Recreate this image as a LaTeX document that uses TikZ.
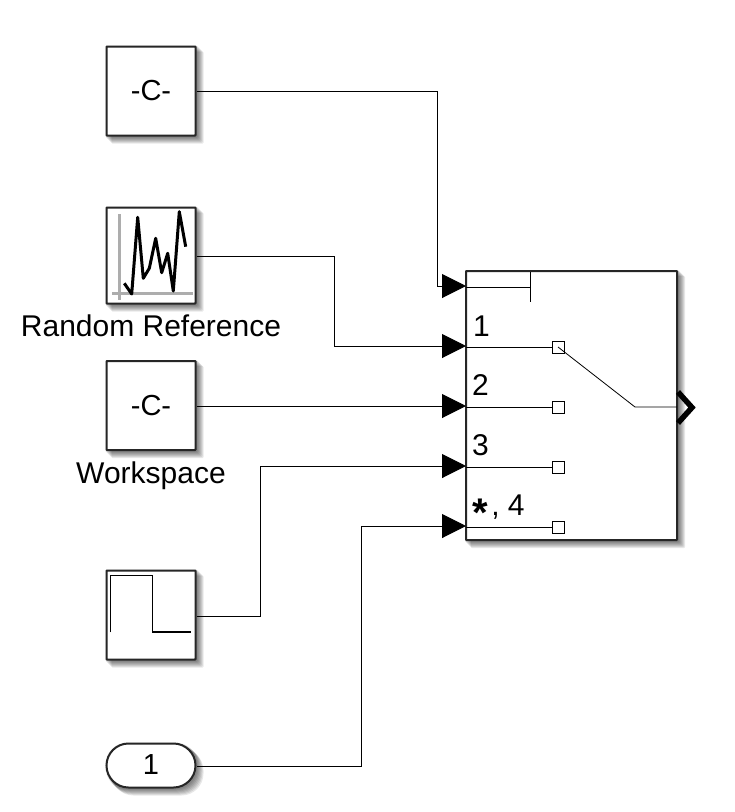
\documentclass[tikz,border=0pt]{standalone}
\usepackage{fontspec}
\setmainfont{Liberation Sans}
\usetikzlibrary{arrows.meta,calc,backgrounds}
\definecolor{axisgray}{gray}{0.68}
\tikzset{
  x=1pt,y=-1pt,
  blockbox/.style={draw=black!85,line width=2pt,fill=white,inner sep=0pt,
    minimum width=89pt,rounded corners=.6pt,font=\fontsize{29}{29}\selectfont},
  term/.style={blockbox,rounded corners=22pt,minimum height=44pt},
  conn/.style={line width=1pt,black},
  inconn/.style={conn,-{Triangle[length=24pt,width=24pt]}},
  wire/.style={line width=1pt,black},
  portsq/.style={draw=black,line width=.8pt,fill=white,minimum size=12pt,inner sep=0pt},
  lbl/.style={font=\fontsize{30}{30}\selectfont,inner sep=0pt,anchor=base},
  plbl/.style={font=\fontsize{30}{30}\selectfont,inner sep=0pt,anchor=base west},
  shadelayer/.style={fill=black,draw=none,opacity=.09},
}
\newcommand{\softshade}[2]{% node name, corner radius
  \foreach \d in {1,2,3,4,5,6,7}{
    \fill[shadelayer,rounded corners=#2] ($(#1.south west)+(\d-1,\d)$) rectangle ($(#1.north east)+(\d,\d-1)$);
  }}
\begin{document}
\begin{tikzpicture}
\useasboundingbox (0,0) rectangle (735,812);
% blocks
\node[blockbox,minimum height=89pt] (c1) at (151,91) {-C-};
\node[blockbox,minimum height=96pt] (rnd) at (151,255.5) {};
\node[blockbox,minimum height=89pt] (c2) at (151,405.5) {-C-};
\node[blockbox,minimum height=89pt] (pulse) at (151,615) {};
\node[term] (inp) at (151,765.5) {\raisebox{1pt}{1}};
\node[blockbox,minimum width=211pt,minimum height=269pt] (sw) at (571.5,405.5) {};
\begin{scope}[on background layer]
  \softshade{c1}{1pt}\softshade{rnd}{1pt}\softshade{c2}{1pt}\softshade{pulse}{1pt}
  \softshade{inp}{22pt}\softshade{sw}{1pt}
\end{scope}
% labels
\node[lbl] (rl) at (151,336) {Random Reference};
\node[lbl] (wl) at (151,483) {Workspace};
% icons
\draw[axisgray,line width=3pt] (119,214) -- (119,300);
\draw[axisgray,line width=3pt] (112,293) -- (193,293);
\draw[black,line width=3pt,line join=round]
  (124.3,283.3) -- (131.7,294) -- (137.7,217.3) -- (143.3,278.3) -- (149.3,268.3) -- (155.7,238.3)
  -- (161.7,272.7) -- (167.7,253.3) -- (173.3,291) -- (179.3,211.7) -- (185.7,246.7);
\draw[black,line width=1.2pt] (110.7,632.3) -- (110.7,575.5) -- (152.3,575.5) -- (152.3,632) -- (191,632);
% switch ports
\coordinate (p0) at (466,286);
\coordinate (p1) at (466,346);
\coordinate (p2) at (466,406);
\coordinate (p3) at (466,466);
\coordinate (p4) at (466,526);
\coordinate (b0) at (437,91);
\coordinate (b1) at (334,256);
\coordinate (b3) at (260,616);
\coordinate (b4) at (361,766);
\coordinate (cs) at (530,287);
\coordinate (ce) at (530,272);
\coordinate (cf) at (530,302);
\coordinate (jn) at (635,407);
\coordinate (sr) at (677,407);
% internal wires and contacts
\node[portsq] (s1) at (558,347) {};
\node[portsq] (s2) at (558,407) {};
\node[portsq] (s3) at (558,467) {};
\node[portsq] (s4) at (558,527) {};
\draw[wire] (466,287) -- (cs);
\draw[wire] (ce) -- (cf);
\draw[wire] (466,347) -- (s1.west);
\draw[wire] (466,407) -- (s2.west);
\draw[wire] (466,467) -- (s3.west);
\draw[wire] (466,527) -- (s4.west);
\draw[line width=.8pt] (s1.center) -- (jn) -- (sr);
% connectors
\draw[inconn] (c1.east |- 0,91) -| (b0) |- (p0);
\draw[inconn] (rnd.east |- 0,256) -| (b1) |- (p1);
\draw[inconn] (c2.east |- 0,406) -- (p2);
\draw[inconn] (pulse.east |- 0,616) -| (b3) |- (p3);
\draw[inconn] (inp.east |- 0,766) -| (b4) |- (p4);
% output port
\draw[black,line width=5.5pt,miter limit=10] (678,392) -- (692,407.5) -- (678,423);
% port labels
\node[plbl] (l1) at (473,336) {1};
\node[plbl] (l2) at (472,395) {2};
\node[plbl] (l3) at (472,455) {3};
\node[plbl] (l4) at (472,515.5) {{\fontsize{40}{40}\bfseries\selectfont\raisebox{-11pt}{*}}\kern3.5pt, 4};
\end{tikzpicture}
\end{document}
